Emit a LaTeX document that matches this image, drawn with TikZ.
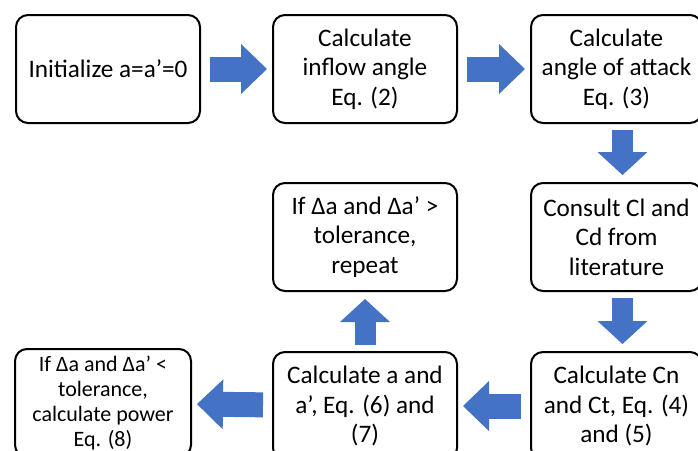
\documentclass[tikz,border=0pt]{standalone}
\usepackage{fontspec}
\setmainfont{Carlito}
\usepackage{tikz}
\usetikzlibrary{positioning,arrows.meta}
\definecolor{cblue}{HTML}{4472C4}
\tikzset{
 blk/.style={rectangle, rounded corners=6pt, draw=black, line width=1pt, fill=white,
 align=center, inner sep=2pt, minimum width=92pt, minimum height=54pt,
 font=\fontsize{12.6pt}{14.8pt}\selectfont},
 blksm/.style={blk, minimum width=88pt, font=\fontsize{11pt}{12.5pt}\selectfont},
 fl/.style={-{Triangle[length=13pt,width=25pt,line width=0pt]}, draw=cblue,
 line width=12.5pt, shorten <=4.5pt, shorten >=2.5pt},
 flv/.style={-{Triangle[length=11.5pt,width=25pt,line width=0pt]}, draw=cblue,
 line width=10.5pt, shorten <=3pt, shorten >=3.5pt},
}
\begin{document}
\begin{tikzpicture}[x=0.5pt, y=0.5pt, node distance=29pt and 36pt]
 \useasboundingbox (0,0) rectangle (698,-451);
 \clip (0,0) rectangle (698,-451);
 \node[blk, anchor=north west] (init) at (15,-14) {Initialize a=a’=0};
 \node[blk, right=35.5pt of init] (inflow) {Calculate\\inflow angle\\Eq. (2)};
 \node[blk, minimum width=85.5pt, right=of inflow] (aoa) {Calculate\\angle of attack\\Eq. (3)};
 \node[blk, minimum width=85.5pt, below=of aoa] (consult) {Consult Cl and\\Cd from\\literature};
 \node[blk, left=of consult] (repeat) {If Δa and Δa’ >\\tolerance,\\repeat};
 \node[blk, minimum width=85.5pt, below=29.5pt of consult] (cncd) {Calculate Cn\\and Ct, Eq. (4)\\and (5)};
 \node[blk, left=of cncd] (calca) {Calculate a and\\a’, Eq. (6) and\\(7)};
 \node[blksm, left=40pt of calca, yshift=1.5pt] (power) {If Δa and Δa’ <\\tolerance,\\calculate power\\Eq. (8)};

 \draw[fl] (init) -- (inflow);
 \draw[fl] (inflow) -- (aoa);
 \draw[flv] ([xshift=3pt]aoa.south) -- ([xshift=3pt]consult.north);
 \draw[flv] ([xshift=3pt]consult.south) -- ([xshift=3pt]cncd.north);
 \draw[fl] (cncd) -- (calca);
 \draw[fl] (calca) -- (power);
 \draw[flv] (calca) -- (repeat);
\end{tikzpicture}
\end{document}
